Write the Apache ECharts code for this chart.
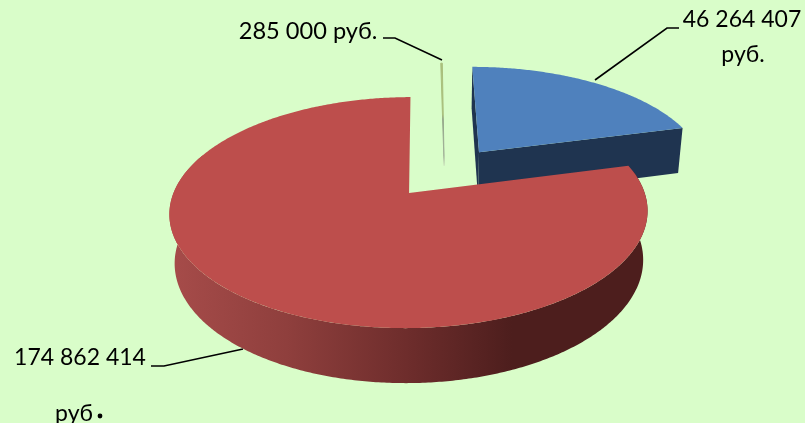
<!DOCTYPE html>
<html>
<head>
<meta charset="utf-8">
<script src="https://cdn.jsdelivr.net/npm/echarts@6/dist/echarts.min.js"></script>
<style>
  html, body { margin: 0; padding: 0; background: #d9fdc9; }
  #chart { width: 805px; height: 423px; }
</style>
</head>
<body>
<div id="chart"></div>
<script>
var sliceNames = ['blue', 'red', 'green'];
var sliceValues = [46264407, 174862414, 285000];
var sliceColors = ['#4f81bd', '#bd4e4c', '#a9bf7c'];
var wallColors = ['#1f3450', '#000', '#8d9a80'];

// fake 3d pie: perspective on a flat disc, u = right, v = towards viewer, z = down
var view = { xc: 430, yc: 193, R: 235.6, ry: 112.2, h: 49.5, p: 0.169, q: 0.02 };
var pieCenter = [0.066, -0.194];
var explodeU = 0.255;
var explodeV = 0.245;

var total = sliceValues.reduce(function (a, b) { return a + b; }, 0);

function project(u, v, z) {
    var s = 1 / (1 - view.p * v + view.q * z);
    return [view.xc + view.R * u * s, view.yc + (view.ry * v + view.h * z) * s];
}

function startAngle(index) {
    var sum = 0;
    for (var i = 0; i < index; i++) sum += sliceValues[i];
    return sum / total * Math.PI * 2;
}

function renderSlice(params, api) {
    var i = params.dataIndex;
    var a0 = startAngle(i);
    var a1 = a0 + api.value(0) / total * Math.PI * 2;
    var mid = (a0 + a1) / 2;
    var cu = pieCenter[0] + explodeU * Math.sin(mid);
    var cv = pieCenter[1] - explodeV * Math.cos(mid);

    function rim(a, z) {
        return project(cu + Math.sin(a), cv - Math.cos(a), z);
    }
    function arc(from, to, z) {
        var pts = [];
        var n = Math.max(2, Math.ceil(Math.abs(to - from) / 0.01));
        for (var k = 0; k <= n; k++) pts.push(rim(from + (to - from) * k / n, z));
        return pts;
    }
    var apexTop = project(cu, cv, 0);
    var apexBottom = project(cu, cv, 1);
    var children = [];

    if (sliceNames[i] === 'green') {
        // too thin to see a wall, it only shows as a fading line
        var end = project(cu, cv, 0.4);
        children.push({
            type: 'polygon',
            shape: { points: arc(a0, a1, 0).concat([end]) },
            style: {
                fill: sliceColors[i],
                lineWidth: 1,
                stroke: new echarts.graphic.LinearGradient(0, rim(a0, 0)[1], 0, end[1], [
                    { offset: 0, color: '#a9bf7c' },
                    { offset: 0.5, color: '#a9bf7c' },
                    { offset: 0.55, color: '#93a58a' },
                    { offset: 0.9, color: '#a3b39a' },
                    { offset: 1, color: '#d0e8c0' }
                ], true)
            }
        });
        return { type: 'group', children: children };
    }

    if (sliceNames[i] === 'red') {
        var front = arc(a0 + 0.05, a1 - 1.2, 0).concat(arc(a1 - 1.2, a0 + 0.05, 1));
        children.push({
            type: 'polygon',
            shape: { points: front },
            style: {
                fill: new echarts.graphic.LinearGradient(167, 0, 646, 0, [
                    { offset: 0, color: '#a74c4a' },
                    { offset: 0.25, color: '#8f3f3d' },
                    { offset: 0.5, color: '#6e2d2c' },
                    { offset: 0.72, color: '#4d1e1d' },
                    { offset: 1, color: '#4d1e1d' }
                ], true)
            }
        });
    } else {
        children.push({
            type: 'polygon',
            shape: { points: [apexTop, rim(a0, 0), rim(a0, 1), apexBottom] },
            style: { fill: wallColors[i] }
        });
        children.push({
            type: 'polygon',
            shape: { points: [apexTop, rim(a1, 0), rim(a1, 1), apexBottom] },
            style: { fill: wallColors[i] }
        });
    }

    children.push({
        type: 'polygon',
        shape: { points: [apexTop].concat(arc(a0, a1, 0)) },
        style: { fill: sliceColors[i] }
    });
    return { type: 'group', children: children };
}

var labelFont = 'Lato, "Noto Sans", sans-serif';

function label(x, y, text, size) {
    return {
        type: 'text', x: x, y: y,
        style: { text: text, fill: '#000', font: (size || 23) + 'px ' + labelFont, align: 'center', verticalAlign: 'middle' }
    };
}

function leader(points) {
    return {
        type: 'polyline',
        shape: { points: points },
        style: { stroke: '#000', lineWidth: 1.6, fill: null }
    };
}

var chart = echarts.init(document.getElementById('chart'));
chart.setOption({
    backgroundColor: '#d9fdc9',
    animation: false,
    series: [{
        type: 'custom',
        coordinateSystem: 'none',
        renderItem: renderSlice,
        data: sliceValues.map(function (v) { return [v]; })
    }],
    graphic: [
        leader([[595, 80], [667, 28], [679, 28]]),
        leader([[383, 38], [395, 38], [442, 60]]),
        leader([[151, 366], [164, 366], [243, 349]]),
        label(742, 20, '46 264 407'),
        label(743, 55, 'руб.'),
        label(308, 31, '285 000 руб.', 23.6),
        label(80, 358, '174 862 414'),
        label(74, 414, 'руб'),
        { type: 'circle', shape: { cx: 100, cy: 416, r: 2.4 }, style: { fill: '#000' } }
    ]
});
</script>
</body>
</html>
